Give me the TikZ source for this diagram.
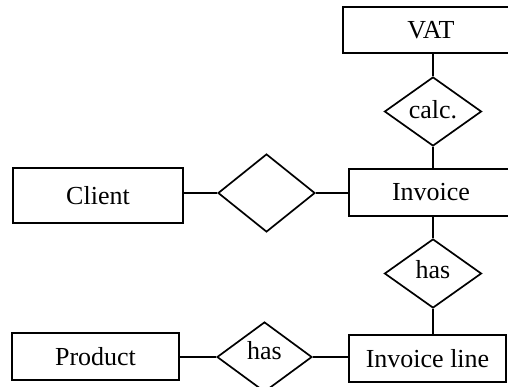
\documentclass[tikz,border=0pt]{standalone}
\usepackage{fontspec}
\setmainfont{Liberation Serif}
\usetikzlibrary{shapes.geometric}
\begin{document}
\begin{tikzpicture}[x=1pt,y=-1pt,
  entity/.style={draw, line width=1.7pt, rectangle, inner sep=0pt, font=\fontsize{26}{30}\selectfont},
  rel/.style={draw, line width=1.7pt, diamond, inner sep=0pt, font=\fontsize{26}{30}\selectfont},
  link/.style={line width=1.7pt}]
\useasboundingbox (0,0) rectangle (508,387);
\clip (0,0) rectangle (508,387);
% entities
\node[entity, minimum width=176pt, minimum height=46pt] (vat) at (431,30) {VAT};
\node[entity, minimum width=164pt, minimum height=47pt] (inv) at (431,192.5) {Invoice};
\node[entity, minimum width=157pt, minimum height=47pt] (invl) at (427.5,358.5) {Invoice line};
\node[entity, minimum width=170pt, minimum height=55pt] (client) at (98,195.5) {Client};
\node[entity, minimum width=167pt, minimum height=47pt] (prod) at (95.5,356.5) {Product};
% relationships
\node[rel, minimum width=97pt, minimum height=69pt] (calc) at (433,111.5) {};
\node[font=\fontsize{26}{30}\selectfont] (calct) at (433,110) {calc.};
\node[rel, minimum width=97pt, minimum height=78pt] (cr) at (266.5,193) {};
\node[rel, minimum width=97pt, minimum height=69pt] (hasv) at (433,273.5) {};
\node[font=\fontsize{26}{30}\selectfont] (hasvt) at (433,270) {has};
\node[rel, minimum width=95pt, minimum height=70pt] (hash) at (264.5,357) {};
\node[font=\fontsize{26}{30}\selectfont] (hasht) at (264.5,351) {has};
% links
\draw[link] (vat.south -| calc.north) -- (calc.north);
\draw[link] (calc.south) -- (inv.north -| calc.south);
\draw[link] (inv.south -| hasv.north) -- (hasv.north);
\draw[link] (hasv.south) -- (invl.north -| hasv.south);
\draw[link] (client.east |- cr.west) -- (cr.west);
\draw[link] (cr.east) -- (inv.west |- cr.east);
\draw[link] (prod.east |- hash.west) -- (hash.west);
\draw[link] (hash.east) -- (invl.west |- hash.east);
\end{tikzpicture}
\end{document}
